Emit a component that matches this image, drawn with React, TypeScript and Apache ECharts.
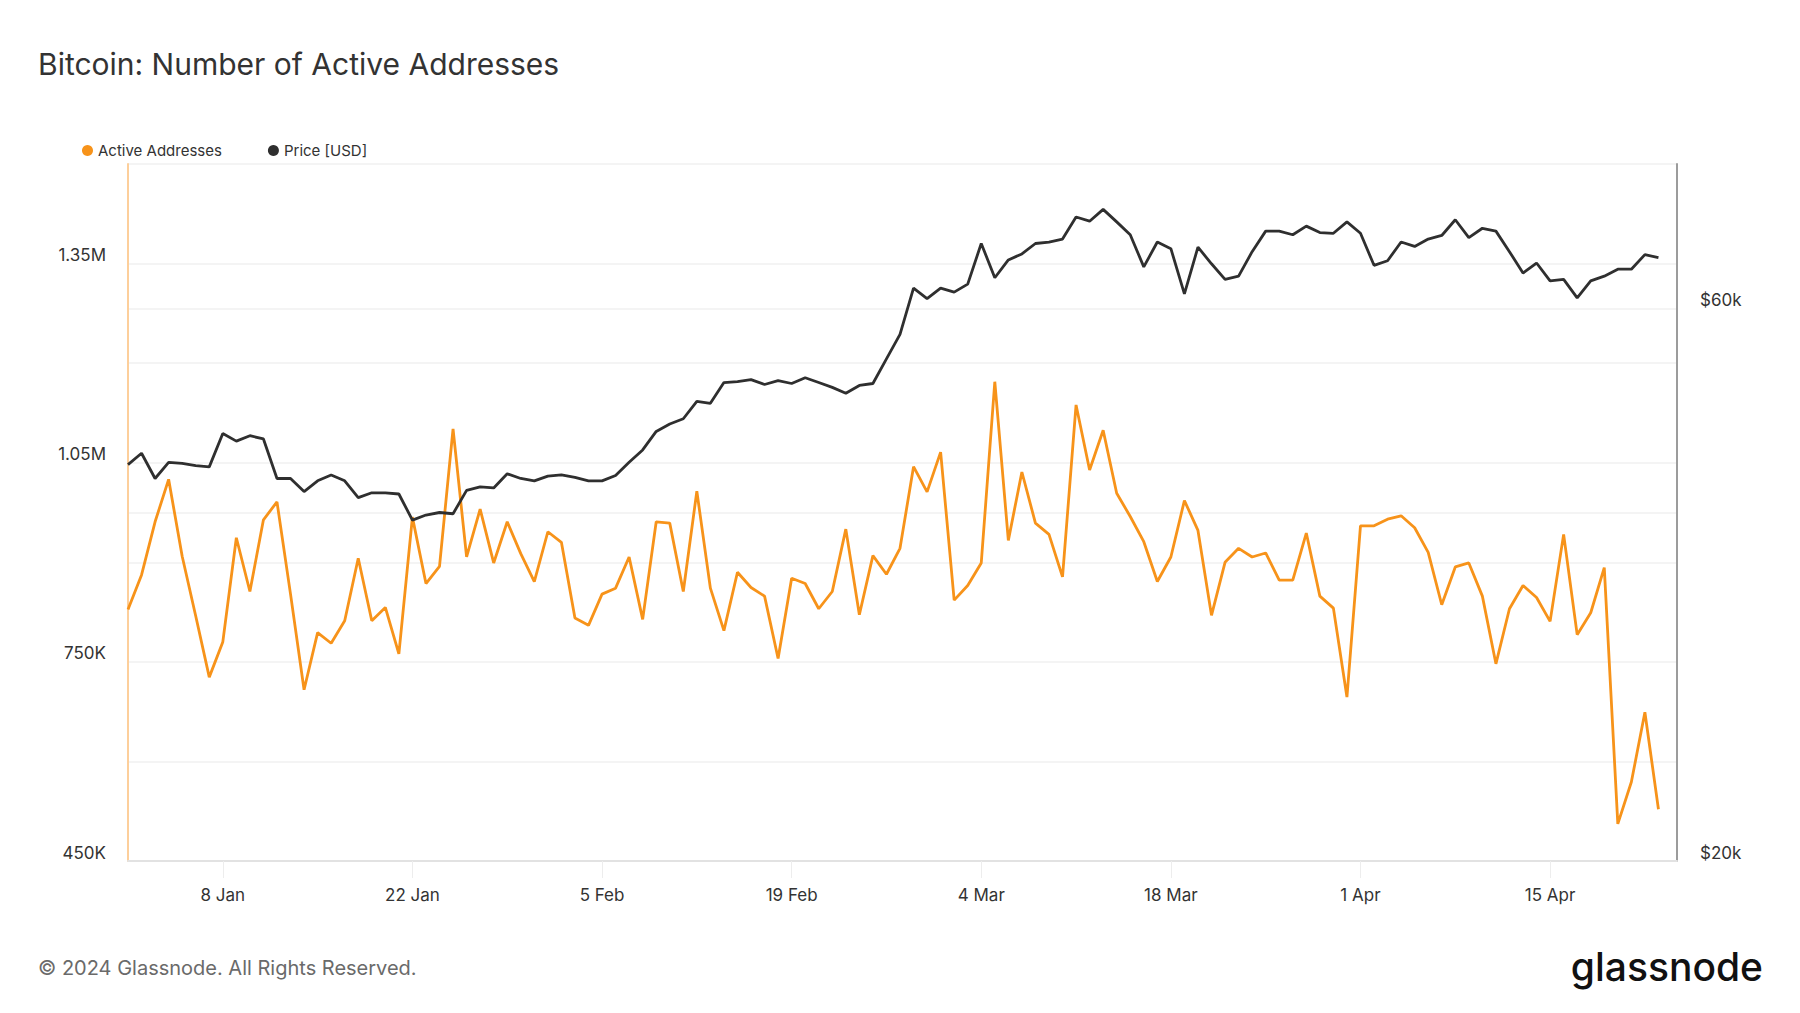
import { useEffect, useRef } from "react";
import * as echarts from "echarts";

// Daily series, starting 1 Jan 2024 (one value per day)
const START_YEAR = 2024;

// Active addresses, in thousands
const activeAddresses = [
  829, 881, 961, 1025, 909, 819, 727, 780, 937, 856,
  964, 991, 852, 708, 794, 778, 812, 906, 812, 832,
  762, 968, 868, 894, 1101, 908, 980, 899, 961, 913,
  871, 946, 930, 816, 805, 852, 861, 908, 814, 961,
  959, 856, 1007, 861, 797, 885, 862, 849, 755, 876,
  868, 830, 856, 950, 821, 910, 882, 921, 1044, 1006,
  1066, 843, 865, 899, 1172, 933, 1036, 959, 942, 878,
  1137, 1039, 1099, 1004, 969, 931, 871, 908, 993, 948,
  820, 900, 921, 908, 914, 873, 873, 944, 849, 831,
  697, 955, 955, 965, 970, 952, 915, 836, 893, 899,
  849, 747, 830, 865, 847, 811, 942, 791, 824, 892,
  506, 569, 674, 528,
];

// BTC price, in thousands of USD
const priceUsd = [
  44.0, 45.0, 42.8, 44.2, 44.1, 43.9, 43.8, 46.8, 46.1, 46.6,
  46.3, 42.8, 42.8, 41.7, 42.6, 43.1, 42.6, 41.2, 41.6, 41.6,
  41.5, 39.4, 39.8, 40.0, 39.9, 41.8, 42.1, 42.0, 43.2, 42.8,
  42.6, 43.0, 43.1, 42.9, 42.6, 42.6, 43.05, 44.2, 45.3, 47.0,
  47.7, 48.2, 49.9, 49.7, 51.8, 51.9, 52.1, 51.6, 52.0, 51.7,
  52.3, 51.8, 51.3, 50.7, 51.5, 51.7, 54.3, 57.0, 62.5, 61.2,
  62.5, 62.0, 63.0, 68.3, 63.8, 66.1, 66.9, 68.3, 68.5, 68.9,
  72.0, 71.4, 73.1, 71.3, 69.5, 65.2, 68.5, 67.6, 61.8, 67.8,
  65.6, 63.6, 64.0, 67.2, 70.0, 70.0, 69.5, 70.7, 69.8, 69.7,
  71.3, 69.7, 65.4, 66.0, 68.5, 67.9, 68.9, 69.4, 71.6, 69.1,
  70.4, 70.0, 67.2, 64.4, 65.7, 63.4, 63.6, 61.3, 63.4, 64.0,
  64.9, 64.9, 66.8, 66.4,
];

// X axis tick labels ([month index, day])
const xTickDates: [number, number][] = [
  [0, 8], [0, 22], [1, 5], [1, 19], [2, 4], [2, 18], [3, 1], [3, 15],
];
const MONTHS = ["Jan", "Feb", "Mar", "Apr", "May", "Jun", "Jul", "Aug", "Sep", "Oct", "Nov", "Dec"];

// Left axis (thousands) and right axis (USD thousands) labels
const leftLabelValues = [450, 750, 1050, 1350];
const rightLabelValues = [20, 60];
const rightGridValues = [20, 40, 60];

const FONT = "Inter, 'Noto Sans', sans-serif";
const DAY_MS = 86400000;

export default function App() {
  const ref = useRef<HTMLDivElement>(null);

  useEffect(() => {
    if (!ref.current) return;
    const chart = echarts.init(ref.current, undefined, { renderer: "svg" });

    const t0 = Date.UTC(START_YEAR, 0, 1);
    const dayOf = (m: number, d: number) => Math.round((Date.UTC(START_YEAR, m, d) - t0) / DAY_MS);
    const aaData = activeAddresses.map((v, i) => [i, v]);
    const priceData = priceUsd.map((v, i) => [i, v]);
    const tickDays = xTickDates.map(([m, d]) => dayOf(m, d));

    const fmtLeft = (v: number) =>
      v >= 1000 ? (v / 1000).toFixed(2) + "M" : Math.round(v) + "K";
    const fmtDay = (v: number) => {
      const d = new Date(t0 + Math.round(v) * DAY_MS);
      return d.getUTCDate() + " " + MONTHS[d.getUTCMonth()];
    };

    chart.setOption({
      animation: false,
      backgroundColor: "#ffffff",
      textStyle: { fontFamily: FONT },
      legend: {
        data: ["Active Addresses", "Price [USD]"],
        icon: "circle",
        itemWidth: 11,
        itemHeight: 11,
        itemGap: 46,
        left: 77,
        top: 138,
        textStyle: { fontSize: 15, color: "#333333", fontFamily: FONT },
      },
      grid: { left: 128, right: 123, top: 164, bottom: 152, containLabel: false },
      xAxis: {
        type: "value",
        min: 0,
        max: 114.37,
        axisLine: { show: true, onZero: false, lineStyle: { color: "#e2e2e2", width: 2 } },
        axisTick: {
          show: true,
          customValues: tickDays,
          length: 17,
          lineStyle: { color: "#ededed", width: 1 },
        },
        axisLabel: {
          customValues: tickDays,
          formatter: (v: number) => fmtDay(v),
          color: "#333333",
          fontSize: 17,
          fontFamily: FONT,
          margin: 25,
        },
        splitLine: { show: false },
      },
      yAxis: [
        {
          type: "value",
          position: "left",
          min: 450,
          max: 1500,
          interval: 150,
          axisLine: { show: true, lineStyle: { color: "#fdcf9b", width: 2 } },
          axisTick: { show: false },
          splitLine: { show: true, lineStyle: { color: "#f0f0f0", width: 1.5 } },
          axisLabel: {
            formatter: (v: number) => (leftLabelValues.indexOf(v) >= 0 ? fmtLeft(v) : ""),
            verticalAlign: "bottom",
            color: "#333333",
            fontSize: 17,
            fontFamily: FONT,
            margin: 22,
          },
        },
        {
          type: "log",
          logBase: 10,
          position: "right",
          min: 20,
          max: 80,
          axisLine: { show: true, lineStyle: { color: "#9c9c9c", width: 2 } },
          axisTick: { show: false, customValues: rightGridValues },
          splitLine: { show: true, lineStyle: { color: "#f0f0f0", width: 1.5 } },
          axisLabel: {
            customValues: rightLabelValues,
            formatter: (v: number) => "$" + Math.round(v) + "k",
            verticalAlign: "bottom",
            color: "#333333",
            fontSize: 17,
            fontFamily: FONT,
            margin: 23,
          },
        },
      ],
      series: [
        {
          name: "Active Addresses",
          type: "line",
          yAxisIndex: 0,
          data: aaData,
          showSymbol: false,
          symbol: "none",
          color: "#f7931a",
          lineStyle: { color: "#f7931a", width: 2.8 },
        },
        {
          name: "Price [USD]",
          type: "line",
          yAxisIndex: 1,
          data: priceData,
          showSymbol: false,
          symbol: "none",
          color: "#2f2f2f",
          lineStyle: { color: "#2f2f2f", width: 2.8 },
        },
      ],
      graphic: [
        {
          type: "text",
          x: 38,
          y: 64,
          style: {
            text: "Bitcoin: Number of Active Addresses",
            fill: "#333333",
            fontSize: 30,
            fontWeight: 400,
            fontFamily: FONT,
            align: "left",
            verticalAlign: "middle",
          },
        },
        {
          type: "text",
          x: 38,
          y: 968,
          style: {
            text: "© 2024 Glassnode. All Rights Reserved.",
            fill: "#6a6a6a",
            fontSize: 20,
            fontFamily: FONT,
            align: "left",
            verticalAlign: "middle",
          },
        },
        {
          type: "text",
          x: 1763,
          y: 966,
          style: {
            text: "glassnode",
            fill: "#111111",
            fontSize: 39,
            fontWeight: 500,
            fontFamily: FONT,
            align: "right",
            verticalAlign: "middle",
          },
        },
      ],
    });

    return () => chart.dispose();
  }, []);

  return (
    <div
      ref={ref}
      style={{ position: "fixed", left: 0, top: 0, width: 1800, height: 1013, background: "#fff" }}
    />
  );
}
